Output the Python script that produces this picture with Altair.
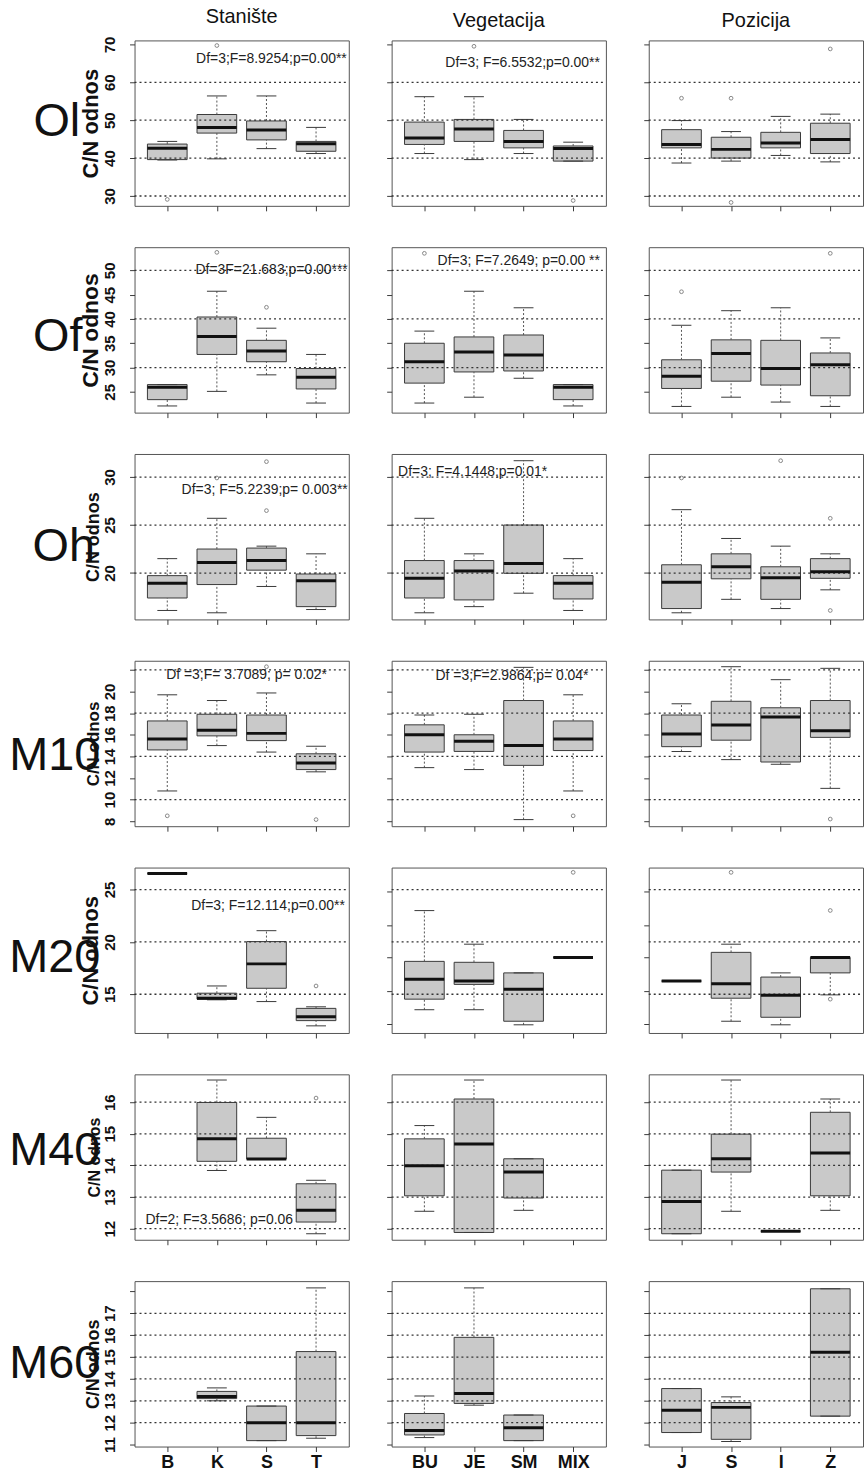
import altair as alt
import pandas as pd

# ---------------- categories / labels ----------------
STAN_CATS = ["B", "K", "S", "T"]
VEG_CATS = ["BU", "JE", "SM", "MIX"]
POZ_CATS = ["J", "S", "I", "Z"]
COL_TITLES = ["Stanište", "Vegetacija", "Pozicija"]
ROW_LABELS = ["Ol", "Of", "Oh", "M10", "M20", "M40", "M60"]
Y_TITLE = "C/N odnos"

# box stats per category: (lower whisker, Q1, median, Q3, upper whisker); None = no data
OL_STAN = [(39.5, 39.6, 42.6, 43.7, 44.4), (39.8, 46.6, 48.1, 51.5, 56.4), (42.5, 44.8, 47.4, 49.8, 56.4), (41.2, 41.8, 43.8, 44.4, 48.1)]
OL_VEG = [(41.2, 43.6, 45.3, 49.5, 56.2), (39.6, 44.4, 47.7, 50.2, 56.2), (41.2, 42.7, 44.4, 47.3, 50.2), (39.2, 39.2, 42.5, 43.2, 44.2)]
OL_POZ = [(38.7, 42.7, 43.6, 47.5, 49.9), (39.2, 40.0, 42.3, 45.5, 47.0), (40.7, 42.7, 44.0, 46.8, 51.0), (39.0, 41.2, 44.9, 49.2, 51.6)]
OL_STAN_OUT = [(1, 29.1), (2, 69.7)]
OL_VEG_OUT = [(2, 69.5), (4, 28.8)]
OL_POZ_OUT = [(1, 55.8), (2, 55.8), (2, 28.3), (4, 68.8)]

OF_STAN = [(22.1, 23.4, 25.95, 26.5, 26.5), (25.1, 32.7, 36.4, 40.4, 45.7), (28.5, 31.2, 33.4, 35.6, 38.1), (22.7, 25.6, 28.0, 29.8, 32.7)]
OF_VEG = [(22.7, 26.8, 31.2, 35.0, 37.5), (23.9, 29.1, 33.2, 36.3, 45.7), (27.8, 29.3, 32.6, 36.7, 42.3), (22.1, 23.4, 25.95, 26.5, 26.5)]
OF_POZ = [(22.0, 25.7, 28.2, 31.6, 38.7), (23.9, 27.2, 32.9, 35.7, 41.7), (22.9, 26.4, 29.8, 35.6, 42.3), (22.0, 24.2, 30.6, 33.0, 36.1)]
OF_STAN_OUT = [(2, 53.7), (3, 42.4)]
OF_VEG_OUT = [(1, 53.5)]
OF_POZ_OUT = [(1, 45.6), (4, 53.5)]

OH_STAN = [(16.1, 17.4, 18.94, 19.73, 21.5), (15.86, 18.8, 21.1, 22.5, 25.7), (18.6, 20.3, 21.3, 22.6, 22.8), (16.2, 16.5, 19.2, 19.9, 22.0)]
OH_VEG = [(15.86, 17.4, 19.45, 21.3, 25.7), (16.5, 17.2, 20.2, 21.3, 22.0), (17.9, 19.97, 21.0, 25.0, 31.7), (16.1, 17.3, 18.94, 19.73, 21.5)]
OH_POZ = [(15.86, 16.3, 19.04, 20.86, 26.6), (17.26, 19.4, 20.65, 22.0, 23.6), (16.3, 17.26, 19.5, 20.65, 22.8), (18.25, 19.45, 20.14, 21.5, 22.0)]
OH_STAN_OUT = [(2, 29.9), (3, 31.6), (3, 26.5)]
OH_VEG_OUT = []
OH_POZ_OUT = [(1, 29.9), (3, 31.7), (4, 25.7), (4, 16.1)]

M10_STAN = [(10.8, 14.6, 15.6, 17.28, 19.7), (15.0, 15.9, 16.43, 17.9, 19.17), (14.4, 15.46, 16.13, 17.83, 19.87), (12.57, 12.78, 13.39, 14.24, 14.94)]
M10_VEG = [(12.96, 14.4, 16.0, 16.92, 17.83), (12.78, 14.46, 15.4, 16.0, 17.9), (8.15, 13.17, 15.0, 19.17, 22.24), (10.8, 14.54, 15.6, 17.28, 19.7)]
M10_POZ = [(14.45, 14.9, 16.07, 17.83, 18.87), (13.7, 15.5, 16.9, 19.1, 22.3), (13.27, 13.48, 17.65, 18.5, 21.1), (11.04, 15.76, 16.37, 19.17, 22.15)]
M10_STAN_OUT = [(1, 8.5), (3, 22.3), (4, 8.15)]
M10_VEG_OUT = [(4, 8.5)]
M10_POZ_OUT = [(4, 8.2)]

M20_STAN = [(26.54, 26.54, 26.54, 26.54, 26.54), (14.47, 14.53, 14.62, 15.1, 15.79), (14.3, 15.57, 17.9, 20.03, 21.07), (11.98, 12.48, 12.86, 13.65, 13.8)]
M20_VEG = [(13.52, 14.53, 16.42, 18.14, 22.99), (13.52, 15.94, 16.26, 18.05, 19.78), (12.08, 12.42, 15.47, 17.04, 17.04), (18.52, 18.52, 18.52, 18.52, 18.52)]
M20_POZ = [(16.26, 16.26, 16.26, 16.26, 16.26), (12.42, 14.62, 16.0, 19.0, 19.78), (12.08, 12.8, 14.9, 16.64, 17.04), (14.94, 17.04, 18.52, 18.52, 18.52)]
M20_STAN_OUT = [(4, 15.79)]
M20_VEG_OUT = [(4, 26.64)]
M20_POZ_OUT = [(2, 26.64), (4, 23.0), (4, 14.53)]

M40_STAN = [None, (13.84, 14.13, 14.84, 15.99, 16.7), (14.2, 14.2, 14.2, 14.86, 15.52), (11.84, 12.21, 12.58, 13.42, 13.53)]
M40_VEG = [(12.55, 13.04, 13.99, 14.84, 15.26), (11.88, 11.88, 14.68, 16.1, 16.7), (12.58, 12.97, 13.79, 14.21, 14.21), None]
M40_POZ = [(11.84, 11.84, 12.86, 13.85, 13.85), (12.55, 13.79, 14.21, 14.99, 16.7), (11.92, 11.92, 11.92, 11.92, 11.92), (12.58, 13.04, 14.39, 15.68, 16.1)]
M40_STAN_OUT = [(4, 16.13)]
M40_VEG_OUT = []
M40_POZ_OUT = []

M60_STAN = [None, (13.0, 13.1, 13.2, 13.43, 13.59), (11.18, 11.18, 12.0, 12.76, 12.76), (11.29, 11.41, 12.0, 15.25, 18.16)]
M60_VEG = [(11.32, 11.44, 11.64, 12.42, 13.22), (12.8, 12.88, 13.33, 15.9, 18.16), (11.18, 11.18, 11.77, 12.35, 12.35), None]
M60_POZ = [(11.55, 11.55, 12.57, 13.56, 13.56), (11.14, 11.24, 12.7, 12.92, 13.18), None, (12.3, 12.3, 15.22, 18.12, 18.12)]
M60_STAN_OUT = []
M60_VEG_OUT = []
M60_POZ_OUT = []

# axis ranges / ticks / gridlines per row
Y_DOMAINS = [[27.4, 71.05], [20.73, 54.76], [15.17, 32.4], [7.54, 22.85], [11.3, 27.1], [11.65, 16.88], [10.91, 18.47]]
Y_TICKS = [[30, 40, 50, 60, 70], [25, 30, 35, 40, 45, 50], [20, 25, 30], [8, 10, 12, 14, 16, 18, 20, 22],
           [15, 20, 25], [12, 13, 14, 15, 16], [11, 12, 13, 14, 15, 16, 17, 18]]
Y_LABELS = [[30, 40, 50, 60, 70], [25, 30, 35, 40, 45, 50], [20, 25, 30], [8, 10, 12, 14, 16, 18, 20],
            [15, 20, 25], [12, 13, 14, 15, 16], [11, 12, 13, 14, 15, 16, 17]]
M20_SIDE_TICKS = [12.2, 15.3, 18.5, 21.6, 24.8]
GRID = [[30, 40, 50, 60], [30, 40, 50], [20, 25, 30], [10, 14, 18, 22], [15, 20, 25], [12, 13, 14, 15, 16], [12, 13, 14, 15, 16, 17]]

# ANOVA annotations: (row, col) -> (text, x, y, align)
ANNOT = {
    (0, 0): ("Df=3;F=8.9254;p=0.00**", 4.62, 66.2, "right"),
    (0, 1): ("Df=3; F=6.5532;p=0.00**", 4.54, 65.2, "right"),
    (1, 0): ("Df=3F=21.683;p=0.00***", 4.64, 50.0, "right"),
    (1, 1): ("Df=3; F=7.2649; p=0.00 **", 4.54, 52.0, "right"),
    (2, 0): ("Df=3; F=5.2239;p= 0.003**", 4.64, 28.63, "right"),
    (2, 1): ("Df=3; F=4.1448;p=0.01*", 0.47, 30.5, "left"),
    (3, 0): ("Df =3;F= 3.7089; p= 0.02*", 4.22, 21.54, "right"),
    (3, 1): ("Df =3;F=2.9864;p= 0.04*", 4.31, 21.45, "right"),
    (4, 0): ("Df=3; F=12.114;p=0.00**", 4.58, 23.4, "right"),
    (5, 0): ("Df=2; F=3.5686; p=0.06", 0.56, 12.26, "left"),
}

ROW_BOXES = [
    [OL_STAN, OL_VEG, OL_POZ], [OF_STAN, OF_VEG, OF_POZ], [OH_STAN, OH_VEG, OH_POZ],
    [M10_STAN, M10_VEG, M10_POZ], [M20_STAN, M20_VEG, M20_POZ], [M40_STAN, M40_VEG, M40_POZ],
    [M60_STAN, M60_VEG, M60_POZ],
]
ROW_OUTS = [
    [OL_STAN_OUT, OL_VEG_OUT, OL_POZ_OUT], [OF_STAN_OUT, OF_VEG_OUT, OF_POZ_OUT], [OH_STAN_OUT, OH_VEG_OUT, OH_POZ_OUT],
    [M10_STAN_OUT, M10_VEG_OUT, M10_POZ_OUT], [M20_STAN_OUT, M20_VEG_OUT, M20_POZ_OUT],
    [M40_STAN_OUT, M40_VEG_OUT, M40_POZ_OUT], [M60_STAN_OUT, M60_VEG_OUT, M60_POZ_OUT],
]
CATS = [STAN_CATS, VEG_CATS, POZ_CATS]

# ---------------- styling ----------------
FONT = "Liberation Sans"
W, H = 215, 166
X_DOMAIN = [0.34, 4.66]
BOX_HALF, CAP_HALF = 0.4, 0.2
BOX_FILL = "#c9c9c9"
DARK = "#3a3a3a"
Y_TITLE_SIZES = [22, 23, 18, 17, 22, 16, 18]
ROW_LABEL_DX = [-78, -77, -71, -80, -80, -80, -80]   # pixel offset of row label centre from plot left
ROW_LABEL_DY = [-4, 4, 7, 10, 5, -9, -3]              # pixel offset from plot middle


def make_panel(r, c):
    recs = []
    for i, b in enumerate(ROW_BOXES[r][c]):
        if b is None:
            continue
        lo, q1, med, q3, hi = b
        p = i + 1
        recs.append({"p": p, "l": p - BOX_HALF, "r": p + BOX_HALF, "cl": p - CAP_HALF,
                     "cr": p + CAP_HALF, "lo": lo, "q1": q1, "med": med, "q3": q3, "hi": hi})
    df = pd.DataFrame(recs)

    xscale = alt.Scale(domain=X_DOMAIN, nice=False, zero=False)
    yscale = alt.Scale(domain=Y_DOMAINS[r], nice=False, zero=False)
    cats = CATS[c]
    last = r == len(ROW_LABELS) - 1
    xaxis = alt.Axis(values=[1, 2, 3, 4], labels=last, domain=False, grid=False, tickSize=5,
                     tickColor=DARK, labelExpr="%s[datum.value - 1]" % str(cats),
                     labelFont=FONT, labelFontSize=18, labelFontWeight="bold", labelColor="#111",
                     labelPadding=2, labelAngle=0)
    if c == 0:
        ytitle = Y_TITLE
        yaxis = alt.Axis(values=Y_TICKS[r], domain=False, grid=False, tickSize=5, tickColor=DARK,
                         labelExpr="indexof(%s, datum.value) >= 0 ? datum.label : ''" % str(Y_LABELS[r]),
                         labelAngle=270, labelAlign="center", labelBaseline="bottom",
                         labelFont=FONT, labelFontSize=15, labelFontWeight="bold", labelColor="#111",
                         labelPadding=12, labelOverlap=False,
                         titleFont=FONT, titleFontSize=Y_TITLE_SIZES[r], titleFontWeight="bold",
                         titleColor="#111", titlePadding=0)
    else:
        ytitle = None
        ticks = M20_SIDE_TICKS if r == 4 else Y_TICKS[r]
        yaxis = alt.Axis(values=ticks, labels=False, domain=False, grid=False, tickSize=5, tickColor=DARK)

    def X(f):
        return alt.X(f"{f}:Q", scale=xscale, axis=xaxis, title=None)

    def Y(f):
        return alt.Y(f"{f}:Q", scale=yscale, axis=yaxis, title=ytitle)

    base = alt.Chart(df)
    layers = [
        base.mark_rect(fill=BOX_FILL, stroke=DARK, strokeWidth=1).encode(x=X("l"), x2="r", y=Y("q1"), y2="q3"),
        base.mark_rule(color="#555", strokeDash=[2, 2], strokeWidth=1).encode(x=X("p"), y=Y("q3"), y2="hi"),
        base.mark_rule(color="#555", strokeDash=[2, 2], strokeWidth=1).encode(x=X("p"), y=Y("lo"), y2="q1"),
        base.mark_rule(color=DARK, strokeWidth=1).encode(x=X("cl"), x2="cr", y=Y("hi")),
        base.mark_rule(color=DARK, strokeWidth=1).encode(x=X("cl"), x2="cr", y=Y("lo")),
        alt.Chart(pd.DataFrame({"g": GRID[r]})).mark_rule(color="#333", strokeDash=[2, 3], strokeWidth=1.3)
        .encode(x=alt.value(0), x2=alt.value(W), y=Y("g")),
        base.mark_rule(color="#111", strokeWidth=3).encode(x=X("l"), x2="r", y=Y("med")),
    ]
    outs = ROW_OUTS[r][c]
    if outs:
        odf = pd.DataFrame(outs, columns=["p", "v"])
        layers.append(alt.Chart(odf).mark_point(shape="circle", size=14, filled=False, color="#555",
                                                strokeWidth=1).encode(x=X("p"), y=Y("v")))
    if (r, c) in ANNOT:
        txt, ax, ay, al = ANNOT[(r, c)]
        adf = pd.DataFrame({"x": [ax], "y": [ay], "t": [txt]})
        layers.append(alt.Chart(adf).mark_text(align=al, baseline="middle", font=FONT, fontSize=14,
                                               color="#222").encode(x=X("x"), y=Y("y"), text="t:N"))
    if c == 0:
        ldf = pd.DataFrame({"t": [ROW_LABELS[r]]})
        layers.append(alt.Chart(ldf).mark_text(align="center", baseline="middle", font=FONT, fontSize=47,
                                               color="#111")
                      .encode(x=alt.value(ROW_LABEL_DX[r]), y=alt.value(H / 2 + ROW_LABEL_DY[r] + 3),
                              text="t:N"))
    ch = alt.layer(*layers).properties(width=W, height=H)
    if r == 0:
        ch = ch.properties(title=alt.TitleParams(COL_TITLES[c], font=FONT, fontSize=20, fontWeight="normal",
                                                 color="#111", offset=9, frame="group", anchor="middle"))
    return ch


panels = [make_panel(r, c) for r in range(len(ROW_LABELS)) for c in range(3)]

chart = alt.concat(*panels, columns=3, spacing={"row": 41.5, "column": 43}, bounds="flush").properties(
    padding={"left": 8, "top": 4, "right": 0, "bottom": 0},
    background="white",
).configure(font=FONT).configure_view(stroke="#555", strokeWidth=1)

chart.save("out.html", embed_options={"renderer": "svg", "actions": False})
